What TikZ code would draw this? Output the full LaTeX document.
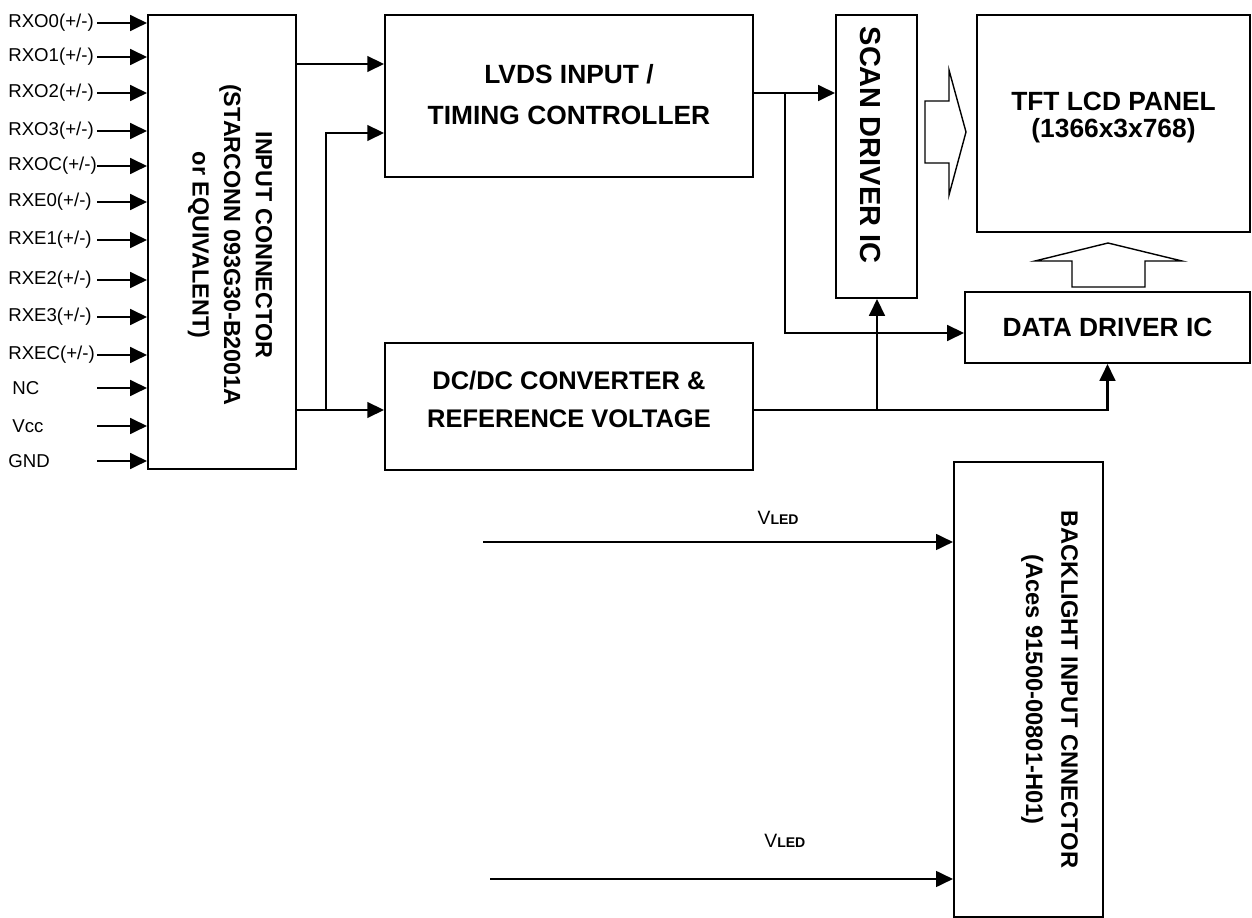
\documentclass[tikz,border=0pt]{standalone}
\usepackage{fontspec}
\setmainfont{Liberation Sans}
\usetikzlibrary{arrows.meta}

\tikzset{
    blk/.style={draw, rectangle, line width=1.25pt, inner sep=0pt},
    lbl/.style={font=\bfseries\fontsize{15}{23.5}\selectfont, align=center, inner sep=0pt},
    sig/.style={font=\fontsize{10.6}{12}\selectfont, inner sep=0pt, anchor=west},
    vled/.style={font=\fontsize{11}{12}\selectfont, inner sep=0pt},
    arr/.style={line width=1.2pt, -{Triangle[length=9.5pt,width=9pt]}},
    fat/.style={line width=0.8pt, line join=miter},
}

\begin{document}
\begin{tikzpicture}[x=0.02cm, y=-0.02cm]
    \useasboundingbox (0,0) rectangle (1252,918);

    % blocks
    \node[blk, minimum width=2.96cm, minimum height=9.08cm] (conn)  at (222,242)      {};
    \node[blk, minimum width=7.36cm, minimum height=3.24cm] (lvds)  at (569,96)       {};
    \node[blk, minimum width=7.36cm, minimum height=2.54cm] (dcdc)  at (569,406.5)    {};
    \node[blk, minimum width=1.62cm, minimum height=5.66cm] (scan)  at (876.5,156.5)  {};
    \node[blk, minimum width=5.46cm, minimum height=4.34cm] (panel) at (1113.5,123.5) {};
    \node[blk, minimum width=5.70cm, minimum height=1.42cm] (data)  at (1107.5,327.5) {};
    \node[blk, minimum width=2.98cm, minimum height=9.10cm] (blc)   at (1028.5,689.5) {};

    % block texts
    \node[lbl, font=\bfseries\fontsize{13.3}{18}\selectfont, rotate=-90]
        (connt) at ([xshift=4.5pt, yshift=-1.7pt]conn.center)
        {INPUT CONNECTOR\\(STARCONN 093G30-B2001A\\or EQUIVALENT)};
    \node[lbl] (lvdst) at ([yshift=1pt]lvds.center) {LVDS INPUT /\\TIMING CONTROLLER};
    \node[lbl, font=\bfseries\fontsize{14.5}{21.5}\selectfont]
        (dcdct) at ([yshift=4pt]dcdc.center) {DC/DC CONVERTER \&\\REFERENCE VOLTAGE};
    \node[lbl, font=\bfseries\fontsize{16.5}{20}\selectfont, rotate=-90]
        (scant) at ([xshift=-3.7pt, yshift=6.5pt]scan.center) {SCAN DRIVER IC};
    \node[lbl, font=\bfseries\fontsize{15}{15}\selectfont]
        (panelt) at ([yshift=3.4pt]panel.center) {TFT LCD PANEL\\(1366x3x768)};
    \node[lbl] (datat) at (data.center) {DATA DRIVER IC};
    \node[lbl, font=\bfseries\fontsize{13.5}{20}\selectfont, rotate=-90]
        (blct) at ([xshift=12pt]blc.center)
        {BACKLIGHT INPUT CNNECTOR\\(Aces 91500-00801-H01)};

    % input signals
    \foreach \y/\t in {23/RXO0,57/RXO1,93/RXO2,131/RXO3,166/RXOC,
                       202/RXE0,240/RXE1,280/RXE2,317/RXE3,355/RXEC} {
        \node[sig] (\t) at (8,\y) {\t(+/-)};
        \coordinate (s\t) at (97,\y);
        \draw[arr] (s\t) -- (conn.west |- s\t);
    }
    \foreach \x/\y/\t in {12/388/NC,12/426/Vcc,8/461/GND} {
        \node[sig] (\t) at (\x,\y) {\t};
        \coordinate (s\t) at (97,\y);
        \draw[arr] (s\t) -- (conn.west |- s\t);
    }

    % junctions
    \coordinate (t1) at (340,64);
    \coordinate (j2) at (326,133);
    \coordinate (j1) at (326,410);
    \coordinate (j3) at (785,93);
    \coordinate (j4) at (785,333);
    \coordinate (j5) at (877,410);

    \draw[arr] (conn.east |- t1) -- (lvds.west |- t1);
    \draw[arr] (conn.east |- j1) -- (dcdc.west |- j1);
    \draw[arr] (j1) -- (j2) -- (lvds.west |- j2);
    \draw[arr] (lvds.east |- j3) -- (scan.west |- j3);
    \draw[arr] (j3) -- (j4) -- (data.west |- j4);
    \draw[arr] (dcdc.east |- j5) -| (data.south);
    \draw[arr] (j5) -- (j5 |- scan.south);

    % wide arrows into the panel
    \draw[fat] (925,101) -- (949,101) -- (949,70) -- (966,132) -- (949,195)
        -- (949,163) -- (925,163) -- cycle;
    \draw[fat] (1072,287) -- (1072,261) -- (1035,261) -- (1108,243) -- (1182,261)
        -- (1145,261) -- (1145,287) -- cycle;

    % backlight supply
    \coordinate (v1) at (483,542);
    \coordinate (v2) at (490,879);
    \draw[arr, line width=0.9pt] (v1) -- (blc.west |- v1)
        node[vled, pos=0.628, above=9.6pt] {V{\bfseries\fontsize{8}{9}\selectfont LED}};
    \draw[arr, line width=0.9pt] (v2) -- (blc.west |- v2)
        node[vled, pos=0.637, above=17.6pt] {V{\bfseries\fontsize{8}{9}\selectfont LED}};
\end{tikzpicture}
\end{document}
